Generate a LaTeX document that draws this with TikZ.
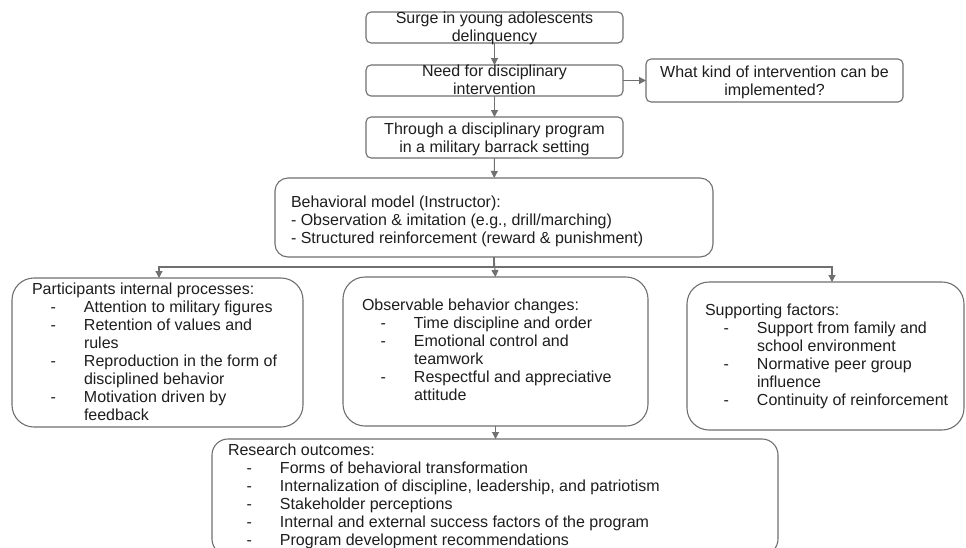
\documentclass[tikz,border=0pt]{standalone}
\usepackage{fontspec}
\setmainfont{Liberation Sans}
\usetikzlibrary{arrows.meta}
\definecolor{edge}{HTML}{707070}
\definecolor{ink}{HTML}{1E1E1E}
\newcommand\itm[1]{\makebox[52pt][l]{\hspace*{18.5pt}-}#1}
\newcommand\cnt[1]{\hspace*{52pt}#1}
\tikzset{
  box/.style={draw=edge, line width=1.1pt, inner sep=0pt, outer sep=0pt},
  txt/.style={inner sep=0pt, outer sep=0pt, text=ink, font=\fontsize{16}{18}\selectfont},
  ltxt/.style={txt, anchor=north west, align=left},
  ctxt/.style={txt, align=center},
  arr/.style={draw=edge, line width=1.1pt, -{Triangle[length=7pt,width=7pt]}}
}
\begin{document}
\begin{tikzpicture}[x=1pt,y=-1pt]
\useasboundingbox (0,0) rectangle (966,547);
\clip (0,0) rectangle (966,547);
\fill[white] (0,0) rectangle (966,547);
% top chain
\node[box, rounded corners=5pt, minimum width=257pt, minimum height=31pt] (b1) at (494.5,27.5) {};
\node[ctxt] (b1t) at (494.5,28.5) {\strut Surge in young adolescents\\\strut delinquency};
\node[box, rounded corners=5pt, minimum width=257pt, minimum height=31pt] (b2) at (494.5,80.5) {};
\node[ctxt] (b2t) at (494.5,82) {\strut Need for disciplinary\\\strut intervention};
\node[box, rounded corners=5pt, minimum width=257pt, minimum height=43pt] (q) at (774.5,80.5) {};
\node[ctxt] (qt) at (774.5,83) {\strut What kind of intervention can be\\\strut implemented?};
\node[box, rounded corners=5pt, minimum width=257pt, minimum height=41pt] (b3) at (494.5,137.5) {};
\node[ctxt] (b3t) at (494.5,140) {\strut Through a disciplinary program\\\strut in a military barrack setting};
% behavioral model
\node[box, rounded corners=13pt, minimum width=438pt, minimum height=79pt] (beh) at (494,217.5) {};
\node[ltxt] (beht) at (291,194.4) {\strut Behavioral model (Instructor):\\
\strut - Observation \& imitation (e.g., drill/marching)\\
\strut - Structured reinforcement (reward \& punishment)};
% three boxes
\node[box, rounded corners=22pt, minimum width=291pt, minimum height=149pt] (left) at (157.5,352.5) {};
\node[ltxt] (leftt) at (32,281.9) {\strut Participants internal processes:\\
\strut\itm{Attention to military figures}\\
\strut\itm{Retention of values and}\\
\strut\cnt{rules}\\
\strut\itm{Reproduction in the form of}\\
\strut\cnt{disciplined behavior}\\
\strut\itm{Motivation driven by}\\
\strut\cnt{feedback}};
\node[box, rounded corners=22pt, minimum width=305pt, minimum height=149pt] (mid) at (495.5,351.5) {};
\node[ltxt] (midt) at (362,297.4) {\strut Observable behavior changes:\\
\strut\itm{Time discipline and order}\\
\strut\itm{Emotional control and}\\
\strut\cnt{teamwork}\\
\strut\itm{Respectful and appreciative}\\
\strut\cnt{attitude}};
\node[box, rounded corners=22pt, minimum width=277pt, minimum height=148pt] (right) at (825.5,356) {};
\node[ltxt] (rightt) at (705,302.4) {\strut Supporting factors:\\
\strut\itm{Support from family and}\\
\strut\cnt{school environment}\\
\strut\itm{Normative peer group}\\
\strut\cnt{influence}\\
\strut\itm{Continuity of reinforcement}};
% research outcomes
\node[box, rounded corners=16pt, minimum width=566pt, minimum height=116pt] (res) at (495,497) {};
\node[ltxt] (rest) at (228,442.4) {\strut Research outcomes:\\
\strut\itm{Forms of behavioral transformation}\\
\strut\itm{Internalization of discipline, leadership, and patriotism}\\
\strut\itm{Stakeholder perceptions}\\
\strut\itm{Internal and external success factors of the program}\\
\strut\itm{Program development recommendations}};
% connectors
\coordinate (split) at (494,267);
\draw[arr] (b1) -- (b2);
\draw[arr] (b2) -- (b3);
\draw[arr] (b2.east) -- (q.west);
\draw[arr] (b3) -- (beh);
\draw[arr] (beh.south) -- (mid.north);
\draw[arr] (beh.south) |- (split) -| ([xshift=1.5pt]left.north);
\draw[arr] (split) -| ([xshift=6.5pt]right.north);
\draw[arr] (mid.south) -- (mid.south |- res.north);
\end{tikzpicture}
\end{document}
